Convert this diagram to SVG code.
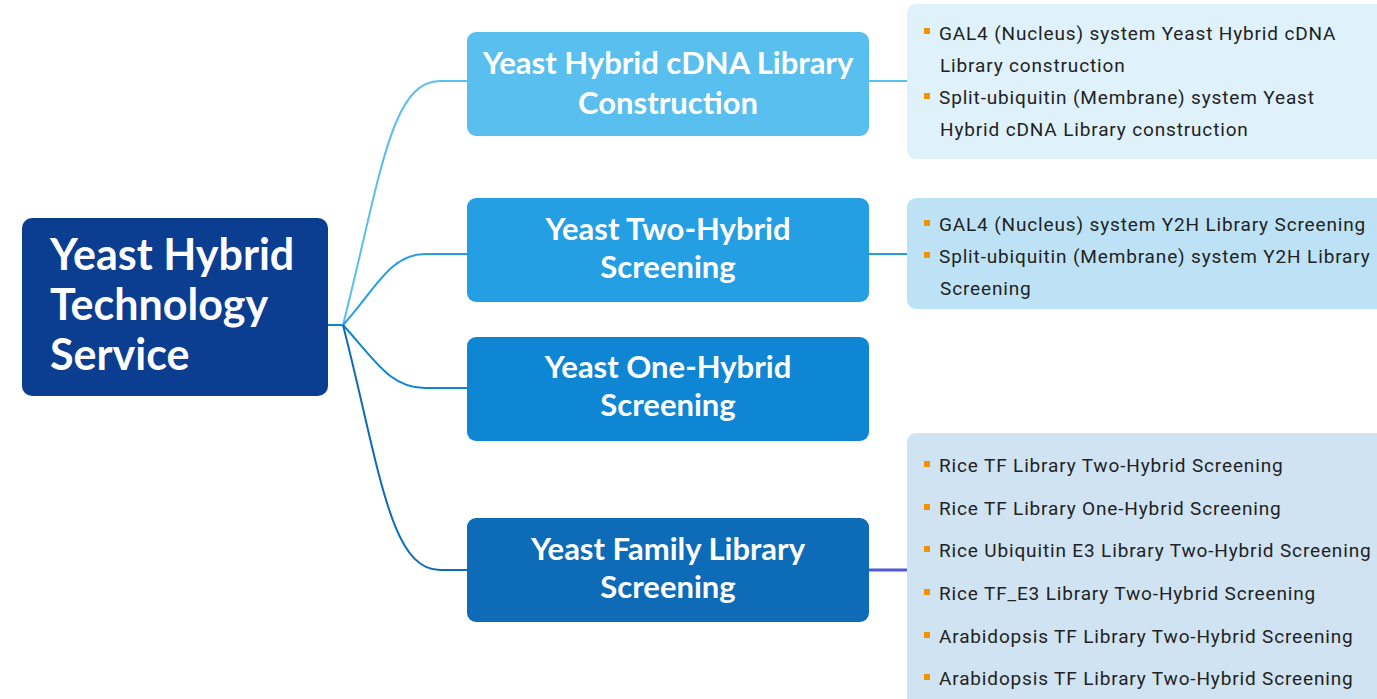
<svg xmlns="http://www.w3.org/2000/svg" width="1377" height="699" viewBox="0 0 1377 699">
<style>
.t{font-family:"Lato","Noto Sans",sans-serif;font-weight:700;fill:#fff}
.root{font-size:43px}
.n{font-size:31px;text-anchor:middle}
.i{font-family:"Roboto","Noto Sans",sans-serif;font-size:19px;letter-spacing:0.85px;fill:#222}
.b{fill:#f39200}
.c{fill:none;stroke-width:2}
</style>
<rect width="1377" height="699" fill="#fff"/>
<g id="connectors">
<path class="c" stroke="#0e86d4" d="M328 325H343"/>
<path class="c" stroke="#59bfee" d="M343 325C380 180 390 81 440 81H467"/>
<path class="c" stroke="#259fe3" d="M343 325C375 290 390 254 425 254H467"/>
<path class="c" stroke="#0e86d4" d="M343 325C375 360 390 388 425 388H467"/>
<path class="c" stroke="#0e6bb8" d="M343 325C380 470 390 570 440 570H467"/>
<path class="c" stroke="#59bfee" d="M869 81H907"/>
<path class="c" stroke="#259fe3" d="M869 254H907"/>
<path fill="none" stroke="#4f5bd5" stroke-width="3" d="M869 570H907"/>
</g>
<g id="root">
<rect x="22" y="218" width="306" height="178" rx="10" fill="#0b3d91"/>
<text class="t root" x="50" y="270">Yeast Hybrid</text>
<text class="t root" x="50" y="320">Technology</text>
<text class="t root" x="50" y="370">Service</text>
</g>
<g id="node1">
<rect x="467" y="32" width="402" height="104" rx="9" fill="#59bfee"/>
<text class="t n" x="668" y="74">Yeast Hybrid cDNA Library</text>
<text class="t n" x="668" y="114">Construction</text>
</g>
<g id="node2">
<rect x="467" y="198" width="402" height="104" rx="9" fill="#259fe3"/>
<text class="t n" x="668" y="240">Yeast Two-Hybrid</text>
<text class="t n" x="668" y="278">Screening</text>
</g>
<g id="node3">
<rect x="467" y="337" width="402" height="104" rx="9" fill="#0e86d4"/>
<text class="t n" x="668" y="378">Yeast One-Hybrid</text>
<text class="t n" x="668" y="416">Screening</text>
</g>
<g id="node4">
<rect x="467" y="518" width="402" height="104" rx="9" fill="#0e6bb8"/>
<text class="t n" x="668" y="560">Yeast Family Library</text>
<text class="t n" x="668" y="598">Screening</text>
</g>
<g id="box1">
<rect x="907" y="4" width="480" height="155" rx="9" fill="#dff1fb"/>
<rect class="b" x="924" y="28" width="6" height="6"/>
<text class="i" x="939" y="40">GAL4 (Nucleus) system Yeast Hybrid cDNA</text>
<text class="i" x="940" y="72">Library construction</text>
<rect class="b" x="924" y="93" width="6" height="6"/>
<text class="i" x="939" y="104">Split-ubiquitin (Membrane) system Yeast</text>
<text class="i" x="940" y="136">Hybrid cDNA Library construction</text>
</g>
<g id="box2">
<rect x="907" y="198" width="480" height="111" rx="9" fill="#bde2f6"/>
<rect class="b" x="924" y="220" width="6" height="6"/>
<text class="i" x="939" y="231">GAL4 (Nucleus) system Y2H Library Screening</text>
<rect class="b" x="924" y="252" width="6" height="6"/>
<text class="i" x="939" y="263">Split-ubiquitin (Membrane) system Y2H Library</text>
<text class="i" x="940" y="295">Screening</text>
</g>
<g id="box4">
<rect x="907" y="433" width="480" height="280" rx="9" fill="#cfe3f2"/>
<rect class="b" x="924" y="461" width="6" height="6"/>
<text class="i" x="939" y="472">Rice TF Library Two-Hybrid Screening</text>
<rect class="b" x="924" y="504" width="6" height="6"/>
<text class="i" x="939" y="515">Rice TF Library One-Hybrid Screening</text>
<rect class="b" x="924" y="546" width="6" height="6"/>
<text class="i" x="939" y="557">Rice Ubiquitin E3 Library Two-Hybrid Screening</text>
<rect class="b" x="924" y="589" width="6" height="6"/>
<text class="i" x="939" y="600">Rice TF_E3 Library Two-Hybrid Screening</text>
<rect class="b" x="924" y="632" width="6" height="6"/>
<text class="i" x="939" y="643">Arabidopsis TF Library Two-Hybrid Screening</text>
<rect class="b" x="924" y="674" width="6" height="6"/>
<text class="i" x="939" y="685">Arabidopsis TF Library Two-Hybrid Screening</text>
</g>
</svg>
